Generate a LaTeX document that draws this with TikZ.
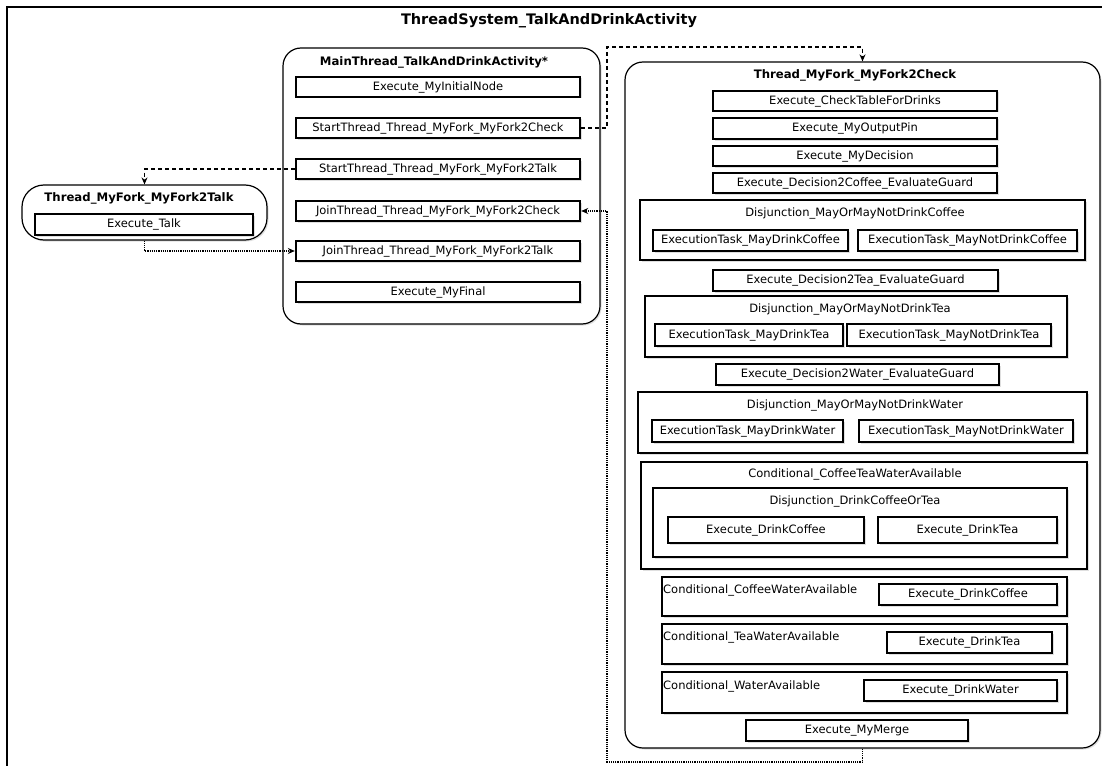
\documentclass[tikz,border=0pt]{standalone}
\usepackage{fontspec}
\setmainfont{DejaVu Sans}
\usetikzlibrary{arrows.meta, positioning, calc, shadows}

\tikzset{
  taskbox/.style={draw, line width=2.4pt, fill=white, inner sep=0pt,
    minimum height=20pt, font=\fontsize{11.5}{13}\selectfont,
    drop shadow={shadow xshift=1.5pt, shadow yshift=-1.5pt, opacity=0.25}},
  groupbox/.style={draw, line width=2.4pt, fill=white, inner sep=0pt,
    drop shadow={shadow xshift=1.5pt, shadow yshift=-1.5pt, opacity=0.25}},
  threadbox/.style={draw, line width=1.2pt, fill=white, inner sep=0pt, rounded corners=18pt,
    drop shadow={shadow xshift=1.5pt, shadow yshift=-1.5pt, opacity=0.25}},
  threadtitle/.style={font=\bfseries\fontsize{11.7}{13}\selectfont, inner sep=0pt},
  grouptitle/.style={font=\fontsize{11.5}{13}\selectfont, inner sep=0pt},
  startflow/.style={line width=1.8pt, dash pattern=on 4pt off 3pt, -{Stealth[length=7pt,width=6pt]}},
  joinflow/.style={line width=1.8pt, dash pattern=on 1.2pt off 1pt, -{Stealth[length=7pt,width=6pt]}}
}

\begin{document}
\begin{tikzpicture}[x=1pt, y=-1pt]
  \useasboundingbox (0,0) rectangle (1102,765);

  % System frame
  \draw[line width=2pt] (7,800) -- (7,7) -- (1130,7);
  \node[font=\bfseries\fontsize{14.5}{16}\selectfont] (systitle) at (549,21) {ThreadSystem\_TalkAndDrinkActivity};

  % Main thread
  \node[threadbox, minimum width=317pt, minimum height=276pt] (mainthread) at (441.5,186) {};
  \node[threadtitle] (maintitle) at (434,62) {MainThread\_TalkAndDrinkActivity*};
  \node[taskbox, minimum width=284pt] (initial) at (438,87) {Execute\_MyInitialNode};
  \node[taskbox, minimum width=284pt] (startcheck) at (438,128) {StartThread\_Thread\_MyFork\_MyFork2Check};
  \node[taskbox, minimum width=284pt] (starttalk) at (438,169) {StartThread\_Thread\_MyFork\_MyFork2Talk};
  \node[taskbox, minimum width=284pt] (joincheck) at (438,211) {JoinThread\_Thread\_MyFork\_MyFork2Check};
  \node[taskbox, minimum width=284pt] (jointalk) at (438,251) {JoinThread\_Thread\_MyFork\_MyFork2Talk};
  \node[taskbox, minimum width=284pt] (final) at (438,292) {Execute\_MyFinal};

  % Talk thread
  \node[threadbox, rounded corners=22pt, minimum width=245pt, minimum height=55pt] (talkthread) at (144.5,212.5) {};
  \node[threadtitle] (talktitle) at (139,198) {Thread\_MyFork\_MyFork2Talk};
  \node[taskbox, minimum width=218pt, minimum height=21pt] (talk) at (144,224.5) {Execute\_Talk};

  % Check thread
  \node[threadbox, minimum width=475pt, minimum height=686pt] (checkthread) at (862.5,405) {};
  \node[threadtitle] (checktitle) at (855,75) {Thread\_MyFork\_MyFork2Check};
  \node[taskbox, minimum width=284pt] (checktable) at (855,101) {Execute\_CheckTableForDrinks};
  \node[taskbox, minimum width=284pt, minimum height=21pt] (outputpin) at (855,128.5) {Execute\_MyOutputPin};
  \node[taskbox, minimum width=284pt] (decision) at (855,156) {Execute\_MyDecision};
  \node[taskbox, minimum width=284pt] (guardcoffee) at (855,183) {Execute\_Decision2Coffee\_EvaluateGuard};

  \node[groupbox, minimum width=445pt, minimum height=60pt] (disjcoffee) at (862.5,230) {};
  \node[grouptitle] (disjcoffeetitle) at (855,213) {Disjunction\_MayOrMayNotDrinkCoffee};
  \node[taskbox, minimum width=195pt, minimum height=21pt] (maycoffee) at (750.5,240.5) {ExecutionTask\_MayDrinkCoffee};
  \node[taskbox, minimum width=219pt, minimum height=21pt] (maynotcoffee) at (967.5,240.5) {ExecutionTask\_MayNotDrinkCoffee};

  \node[taskbox, minimum width=285pt, minimum height=21pt] (guardtea) at (855.5,280.5) {Execute\_Decision2Tea\_EvaluateGuard};

  \node[groupbox, minimum width=422pt, minimum height=61pt] (disjtea) at (856,326.5) {};
  \node[grouptitle] (disjteatitle) at (850,309) {Disjunction\_MayOrMayNotDrinkTea};
  \node[taskbox, minimum width=188pt, minimum height=22pt] (maytea) at (749,335) {ExecutionTask\_MayDrinkTea};
  \node[taskbox, minimum width=204pt, minimum height=22pt] (maynottea) at (949,335) {ExecutionTask\_MayNotDrinkTea};

  \node[taskbox, minimum width=283pt, minimum height=21pt] (guardwater) at (857.5,374.5) {Execute\_Decision2Water\_EvaluateGuard};

  \node[groupbox, minimum width=449pt, minimum height=61pt] (disjwater) at (862.5,422.5) {};
  \node[grouptitle] (disjwatertitle) at (855,405) {Disjunction\_MayOrMayNotDrinkWater};
  \node[taskbox, minimum width=191pt, minimum height=22pt] (maywater) at (747.5,431) {ExecutionTask\_MayDrinkWater};
  \node[taskbox, minimum width=214pt, minimum height=22pt] (maynotwater) at (966,431) {ExecutionTask\_MayNotDrinkWater};

  % Conditionals
  \node[groupbox, minimum width=446pt, minimum height=107pt] (condall) at (864,515.5) {};
  \node[grouptitle] (condalltitle) at (855,474) {Conditional\_CoffeeTeaWaterAvailable};
  \node[groupbox, minimum width=414pt, minimum height=69pt] (disjdrink) at (860,522.5) {};
  \node[grouptitle] (disjdrinktitle) at (855,501) {Disjunction\_DrinkCoffeeOrTea};
  \node[taskbox, minimum width=196pt, minimum height=26pt] (drinkcoffee) at (766,530) {Execute\_DrinkCoffee};
  \node[taskbox, minimum width=179pt, minimum height=26pt] (drinktea) at (967.5,530) {Execute\_DrinkTea};

  \node[groupbox, minimum width=405pt, minimum height=39pt] (condcw) at (864.5,596.5) {};
  \node[grouptitle, anchor=west] (condcwtitle) at (663,590) {Conditional\_CoffeeWaterAvailable};
  \node[taskbox, minimum width=178pt, minimum height=21pt] (cwcoffee) at (968,594.5) {Execute\_DrinkCoffee};

  \node[groupbox, minimum width=405pt, minimum height=40pt] (condtw) at (864.5,644) {};
  \node[grouptitle, anchor=west] (condtwtitle) at (663,637) {Conditional\_TeaWaterAvailable};
  \node[taskbox, minimum width=165pt, minimum height=21pt] (twtea) at (969.5,642.5) {Execute\_DrinkTea};

  \node[groupbox, minimum width=405pt, minimum height=41pt] (condw) at (864.5,692.5) {};
  \node[grouptitle, anchor=west] (condwtitle) at (663,686) {Conditional\_WaterAvailable};
  \node[taskbox, minimum width=193pt, minimum height=21pt] (wwater) at (960.5,690.5) {Execute\_DrinkWater};

  \node[taskbox, minimum width=222pt, minimum height=21pt] (merge) at (857,730.5) {Execute\_MyMerge};

  % Thread flows
  \coordinate (forkcheck) at (607,47);
  \coordinate (joinback) at (607,762);
  \draw[startflow] (startcheck.east) -| (forkcheck) -| (checkthread.north);
  \draw[startflow] (starttalk.west) -| (talkthread.north);
  \draw[joinflow] (talkthread.south) |- (jointalk.west);
  \draw[joinflow] (checkthread.south) |- (joinback) |- (joincheck.east);
\end{tikzpicture}
\end{document}
